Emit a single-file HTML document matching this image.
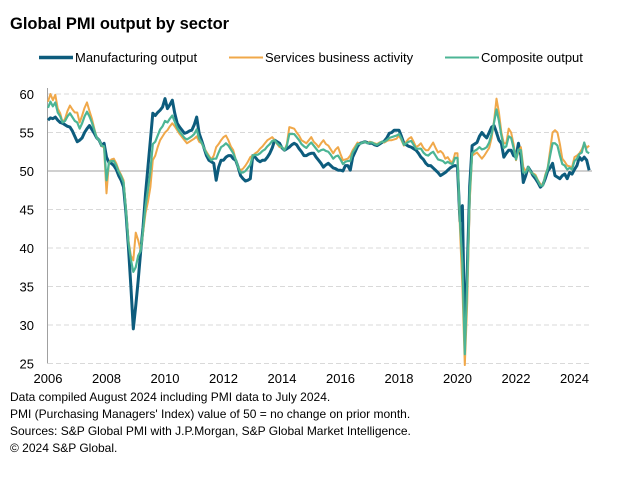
<!DOCTYPE html>
<html><head><meta charset="utf-8"><style>
body{margin:0;background:#fff;font-family:"Liberation Sans",Arial,sans-serif;}
#wrap{position:relative;width:635px;height:477px;overflow:hidden;}
.t{position:absolute;white-space:nowrap;color:#000;}
</style></head><body>
<div id="wrap">
<div class="t" style="left:10px;top:15px;font-size:16.5px;font-weight:bold;">Global PMI output by sector</div>
<svg id="c" width="635" height="477" style="position:absolute;left:0;top:0"></svg>
<div class="t" style="left:10px;top:390px;font-size:12px;">Data compiled August 2024 including PMI data to July 2024.</div>
<div class="t" style="left:10px;top:407px;font-size:12px;">PMI (Purchasing Managers' Index) value of 50 = no change on prior month.</div>
<div class="t" style="left:10px;top:424px;font-size:12px;">Sources: S&amp;P Global PMI with J.P.Morgan, S&amp;P Global Market Intelligence.</div>
<div class="t" style="left:10px;top:441px;font-size:12px;">© 2024 S&amp;P Global.</div>
</div>
<script>
const yTicks=[25,30,35,40,45,50,55,60];
const xTickYears=[2006,2008,2010,2012,2014,2016,2018,2020,2022,2024];
const seriesNames=["Manufacturing output","Services business activity","Composite output"];
const manufacturing=[
56.6,56.9,56.8,57.0,56.6,56.3,56.2,56.0,55.8,55.7,55.2,54.5,
53.8,54.0,54.3,55.0,55.5,55.9,55.4,54.9,54.3,54.0,53.3,53.6,
51.8,51.1,51.0,50.7,50.2,49.4,48.8,47.9,44.5,40.1,35.0,29.5,
32.5,35.8,39.5,42.7,47.0,50.5,54.0,57.5,57.2,57.6,57.9,58.3,
59.4,58.1,58.6,59.2,57.5,56.2,55.7,55.3,54.9,55.0,55.2,55.3,
56.0,57.0,54.9,54.0,53.0,52.0,51.4,51.2,51.0,48.8,50.5,51.4,
51.4,51.8,52.0,52.0,51.6,51.4,50.5,49.4,49.0,48.7,48.8,49.0,
52.0,51.8,51.4,51.2,51.4,51.4,51.8,52.3,53.0,54.0,53.8,53.6,
53.0,52.7,52.9,53.1,53.4,53.6,53.4,52.9,52.5,52.0,52.0,52.2,
52.3,52.3,51.8,51.4,51.0,50.5,50.8,51.0,50.7,50.4,50.3,50.1,
50.1,50.0,50.7,50.7,50.1,51.8,52.5,53.2,53.6,53.7,53.8,53.7,
53.6,53.6,53.4,53.3,53.5,53.7,53.9,54.3,54.9,55.0,55.3,55.3,
55.3,54.5,53.6,53.4,53.2,53.1,52.9,52.7,52.3,51.8,51.5,51.0,
50.7,50.7,50.4,50.1,49.8,49.4,49.6,49.8,50.1,50.4,50.6,50.7,
50.6,43.5,45.5,28.0,37.0,48.0,53.3,53.5,53.7,54.5,55.0,54.6,
54.3,55.0,55.7,55.9,55.0,54.0,53.6,51.8,52.3,52.7,52.7,52.0,
51.8,53.6,52.0,48.5,49.4,50.5,50.0,49.4,49.0,48.5,47.9,48.2,
49.0,50.0,50.4,51.0,49.4,49.2,49.0,49.4,49.6,49.0,49.8,49.6,
50.2,50.7,51.8,51.4,51.8,51.4,50.1];
const services=[
59.0,60.0,59.2,59.9,58.1,57.5,56.3,56.8,57.8,58.5,58.0,57.6,
57.6,56.3,57.2,58.2,58.9,57.8,56.8,55.5,54.3,54.0,53.3,53.0,
47.1,51.1,51.5,51.6,51.0,50.1,49.5,48.8,45.0,41.0,39.0,38.4,
42.0,41.0,39.7,42.0,44.5,46.0,47.9,51.4,52.0,53.1,54.0,54.5,
55.0,55.3,55.8,56.2,55.8,55.3,54.8,54.4,54.0,53.6,53.8,54.0,
54.2,54.5,53.8,53.6,53.0,52.5,52.0,51.5,52.0,53.1,53.5,54.0,
54.4,54.6,54.0,53.2,52.7,51.5,50.5,50.1,50.3,50.7,51.2,51.8,
52.0,52.3,52.5,52.9,53.2,53.6,54.0,54.2,54.4,54.0,53.5,53.1,
53.1,52.7,53.5,55.7,55.6,55.5,55.0,54.6,54.0,53.8,53.6,54.0,
54.4,53.8,53.5,53.1,53.6,54.0,53.5,53.3,52.8,52.3,52.8,53.1,
52.2,51.4,51.5,51.6,52.0,52.7,53.2,53.7,53.5,53.7,53.8,53.6,
53.8,53.7,53.6,53.5,53.7,53.8,53.7,53.9,54.0,54.0,54.1,54.2,
54.6,54.0,53.3,53.8,54.2,54.4,53.8,53.1,53.3,53.6,53.0,52.7,
52.7,53.2,53.7,53.0,52.4,52.6,52.3,51.6,51.8,51.3,51.1,52.3,
52.3,42.5,35.0,24.8,33.0,46.0,52.0,52.2,52.4,52.0,51.6,52.0,
52.5,53.0,54.3,56.5,59.4,57.6,55.0,53.6,53.6,55.5,55.0,53.5,
51.4,52.5,53.1,50.5,50.0,50.5,49.8,49.7,49.5,48.8,48.3,48.1,
49.5,50.4,52.7,55.0,55.3,55.0,53.5,51.6,51.2,50.7,50.6,50.5,
51.8,52.0,52.3,52.8,53.6,53.0,53.3];
const composite=[
58.2,59.0,58.4,58.9,57.6,57.1,56.3,56.5,57.1,57.5,57.0,56.5,
56.3,55.5,56.2,57.1,57.7,57.1,56.3,55.3,54.3,54.0,53.3,53.2,
48.8,51.1,51.3,51.3,50.7,49.9,49.3,48.5,44.8,40.7,38.5,36.9,
37.5,39.0,39.6,42.3,45.4,47.6,50.0,53.5,53.8,54.6,55.4,55.8,
56.5,56.3,56.8,57.2,56.4,55.6,55.1,54.7,54.3,54.1,54.3,54.5,
54.8,55.4,54.2,53.7,53.0,52.3,51.8,51.4,51.6,51.6,52.4,53.1,
53.3,53.6,53.3,52.8,52.3,51.5,50.5,49.8,49.8,50.0,50.4,50.8,
52.0,52.1,52.1,52.3,52.6,52.8,53.2,53.5,53.9,54.0,53.6,53.3,
53.1,52.7,53.3,54.8,54.8,54.8,54.4,54.0,53.5,53.2,53.0,53.4,
53.7,53.3,52.9,52.5,52.7,52.8,52.6,52.5,52.1,51.6,51.9,52.0,
51.5,50.9,51.2,51.3,51.3,52.4,52.9,53.5,53.5,53.7,53.8,53.6,
53.7,53.7,53.5,53.4,53.6,53.8,53.8,54.0,54.3,54.4,54.5,54.6,
54.8,54.2,53.4,53.6,53.8,53.9,53.4,52.9,52.9,52.9,52.4,52.1,
52.0,52.3,52.5,52.0,51.5,51.4,51.3,51.0,51.2,51.0,50.9,51.7,
51.7,43.5,38.0,26.2,35.5,47.0,52.3,52.6,52.8,53.1,52.8,52.9,
53.1,53.7,54.8,56.3,58.0,56.5,54.6,53.0,53.2,54.5,54.3,53.0,
51.5,52.8,52.7,49.8,49.8,50.5,49.9,49.6,49.3,48.7,48.1,48.1,
49.3,50.3,52.0,53.6,53.6,53.3,52.0,50.9,50.7,50.2,50.4,50.2,
51.3,51.6,52.2,52.4,53.7,52.5,52.3];

const NS="http://www.w3.org/2000/svg";
const svg=document.getElementById('c');
const X0=48,PXY=29.25,Y60=94,PXU=7.7;
function xScale(i){return X0+i/12*PXY;}
function xYear(y){return X0+(y-2006)*PXY;}
function yScale(v){return Y60+(60-v)*PXU;}
function mk(tag,attrs){const e=document.createElementNS(NS,tag);for(const k in attrs)e.setAttribute(k,attrs[k]);svg.appendChild(e);return e;}

yTicks.forEach(v=>{
  const y=yScale(v);
  const g=mk('line',{x1:48,x2:592,y1:y,y2:y,stroke:v===50?'#a0a0a0':'#d9d9d9','stroke-width':1,'stroke-dasharray':v===50?'none':'5,3'});
  
  
  const t=mk('text',{x:34,y:y+5,'text-anchor':'end','font-size':13,'font-family':'Liberation Sans, sans-serif',fill:'#000'});
  t.textContent=v;
  
  
});
const ax=mk('line',{x1:47.5,x2:47.5,y1:88,y2:yScale(25),stroke:'#a0a0a0','stroke-width':1});


xTickYears.forEach(yr=>{
  const t=mk('text',{x:xYear(yr),y:383,'text-anchor':'middle','font-size':13,'font-family':'Liberation Sans, sans-serif',fill:'#000'});
  t.textContent=yr;
  
  
});
function drawSeries(arr,color,w,name){
  const d=arr.map((v,i)=>(i?'L':'M')+xScale(i).toFixed(2)+','+yScale(v).toFixed(2)).join(' ');
  const p=mk('path',{d:d,fill:'none',stroke:color,'stroke-width':w,'stroke-linejoin':'round'});
  
  
}
drawSeries(manufacturing,'#0d5c7d',3,'manufacturing-line');
drawSeries(services,'#f0a84a',2,'services-line');
drawSeries(composite,'#4cb595',2.2,'composite-line');

const legend=[[39,75,'#0d5c7d',3.5],[229,265,'#f0a84a',2],[445,481,'#4cb595',2]];
legend.forEach((l,i)=>{
  const ln=mk('line',{x1:l[0],x2:l[0]+34,y1:57.5,y2:57.5,stroke:l[2],'stroke-width':l[3]});
  
  
  const t=mk('text',{x:l[1],y:62,'font-size':13,'font-family':'Liberation Sans, sans-serif',fill:'#000'});
  t.textContent=seriesNames[i];
  
  
});
</script>
</body></html>
